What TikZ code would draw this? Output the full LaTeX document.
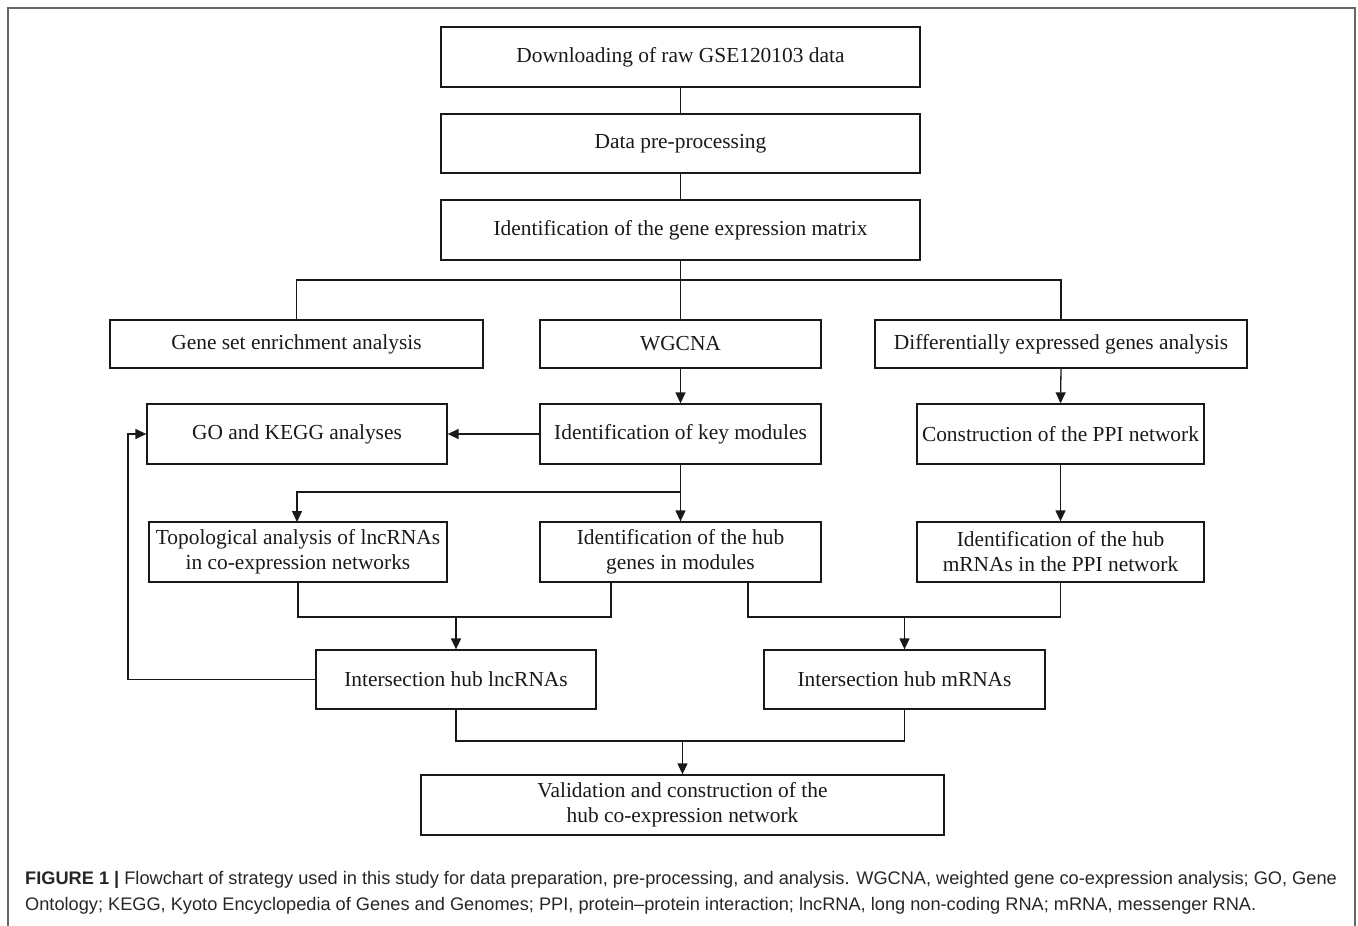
\documentclass[tikz,border=0pt]{standalone}
\usepackage{fontspec}
\setmainfont{Liberation Serif}
\newfontfamily\capfont{Liberation Sans}
\usetikzlibrary{arrows.meta}
\begin{document}
\begin{tikzpicture}[x=1pt,y=-1pt,
  box/.style={draw=black!90,line width=1.3pt,inner sep=0pt,align=center,
    font=\fontsize{21.4}{25}\selectfont,text=black!90},
  ln/.style={draw=black!90,line width=1.3pt},
  arr/.style={ln,-{Triangle[length=11pt,width=10pt]}},
  captxt/.style={anchor=base west,inner sep=0pt,font=\capfont\fontsize{18.2}{21}\selectfont,text=black!85}]
\useasboundingbox (0,0) rectangle (1358,926);
% outer frame
\draw[draw=black!60,line width=1.2pt] (8,926) -- (8,8) -- (1355,8) -- (1355,926);
% boxes
\node[box,minimum width=479pt,minimum height=60pt] (dl) at (680.5,57) {Downloading of raw GSE120103 data};
\node[box,minimum width=479pt,minimum height=59pt] (pre) at (680.5,143.5) {Data pre-processing};
\node[box,minimum width=479pt,minimum height=60pt] (mat) at (680.5,230) {Identification of the gene expression matrix};
\node[box,minimum width=373pt,minimum height=48pt] (gsea) at (296.5,344) {Gene set enrichment analysis};
\node[box,minimum width=281pt,minimum height=48pt] (wgcna) at (680.5,344) {WGCNA};
\node[box,minimum width=372pt,minimum height=48pt] (deg) at (1061,344) {Differentially expressed genes analysis};
\node[box,minimum width=300pt,minimum height=60pt] (go) at (297,434) {GO and KEGG analyses};
\node[box,minimum width=281pt,minimum height=60pt] (key) at (680.5,434) {Identification of key modules};
\node[box,minimum width=287pt,minimum height=60pt] (ppi) at (1060.5,434) {Construction of the PPI network};
\node[box,minimum width=298pt,minimum height=60pt] (topo) at (298,552) {Topological analysis of lncRNAs\\in co-expression networks};
\node[box,minimum width=281pt,minimum height=60pt] (hubg) at (680.5,552) {Identification of the hub\\genes in modules};
\node[box,minimum width=287pt,minimum height=60pt] (hubm) at (1060.5,552) {Identification of the hub\\mRNAs in the PPI network};
\node[box,minimum width=280pt,minimum height=59pt] (lnc) at (456,679.5) {Intersection hub lncRNAs};
\node[box,minimum width=281pt,minimum height=59pt] (mrna) at (904.5,679.5) {Intersection hub mRNAs};
\node[box,minimum width=523pt,minimum height=60pt] (val) at (682.5,805) {Validation and construction of the\\hub co-expression network};
% junction coordinates
\coordinate (bus1) at (680.5,280);
\coordinate (bus2) at (680.5,492);
\coordinate (topin) at (297,522);
\coordinate (hgL) at (611,582);
\coordinate (hgR) at (748,582);
\coordinate (bus3) at (456,617);
\coordinate (bus4) at (904.5,617);
\coordinate (fb) at (128,679.5);
\coordinate (bus5) at (682.5,741);
% connectors
\draw[ln] (dl.south) -- (pre.north);
\draw[ln] (pre.south) -- (mat.north);
\draw[ln] (mat.south) -- (wgcna.north);
\draw[ln] (gsea.north) |- (bus1) -| (deg.north);
\draw[arr] (wgcna.south) -- (key.north);
\draw[arr] (deg.south) -- (ppi.north);
\draw[arr] (key.west) -- (go.east);
\draw[ln] (key.south) -- (bus2);
\draw[arr] (bus2) -| (topin);
\draw[arr] (bus2) -- (hubg.north);
\draw[arr] (ppi.south) -- (hubm.north);
\draw[ln] (topo.south) -- (topo.south |- bus3) -- (hgL |- bus3) -- (hgL);
\draw[arr] (bus3) -- (lnc.north);
\draw[ln] (hgR) -- (hgR |- bus4) -- (hubm.south |- bus4) -- (hubm.south);
\draw[arr] (bus4) -- (mrna.north);
\draw[arr] (lnc.west) -- (fb) |- (go.west);
\draw[ln] (lnc.south) |- (bus5) -| (mrna.south);
\draw[arr] (bus5) -- (val.north);
% caption
\node[captxt] (cap1) at (25,884) {\textbf{FIGURE 1 |} Flowchart of strategy used in this study for data preparation, pre-processing, and analysis. WGCNA, weighted gene co-expression analysis; GO, Gene};
\node[captxt] (cap2) at (25,910) {Ontology; KEGG, Kyoto Encyclopedia of Genes and Genomes; PPI, protein–protein interaction; lncRNA, long non-coding RNA; mRNA, messenger RNA.};
\end{tikzpicture}
\end{document}
